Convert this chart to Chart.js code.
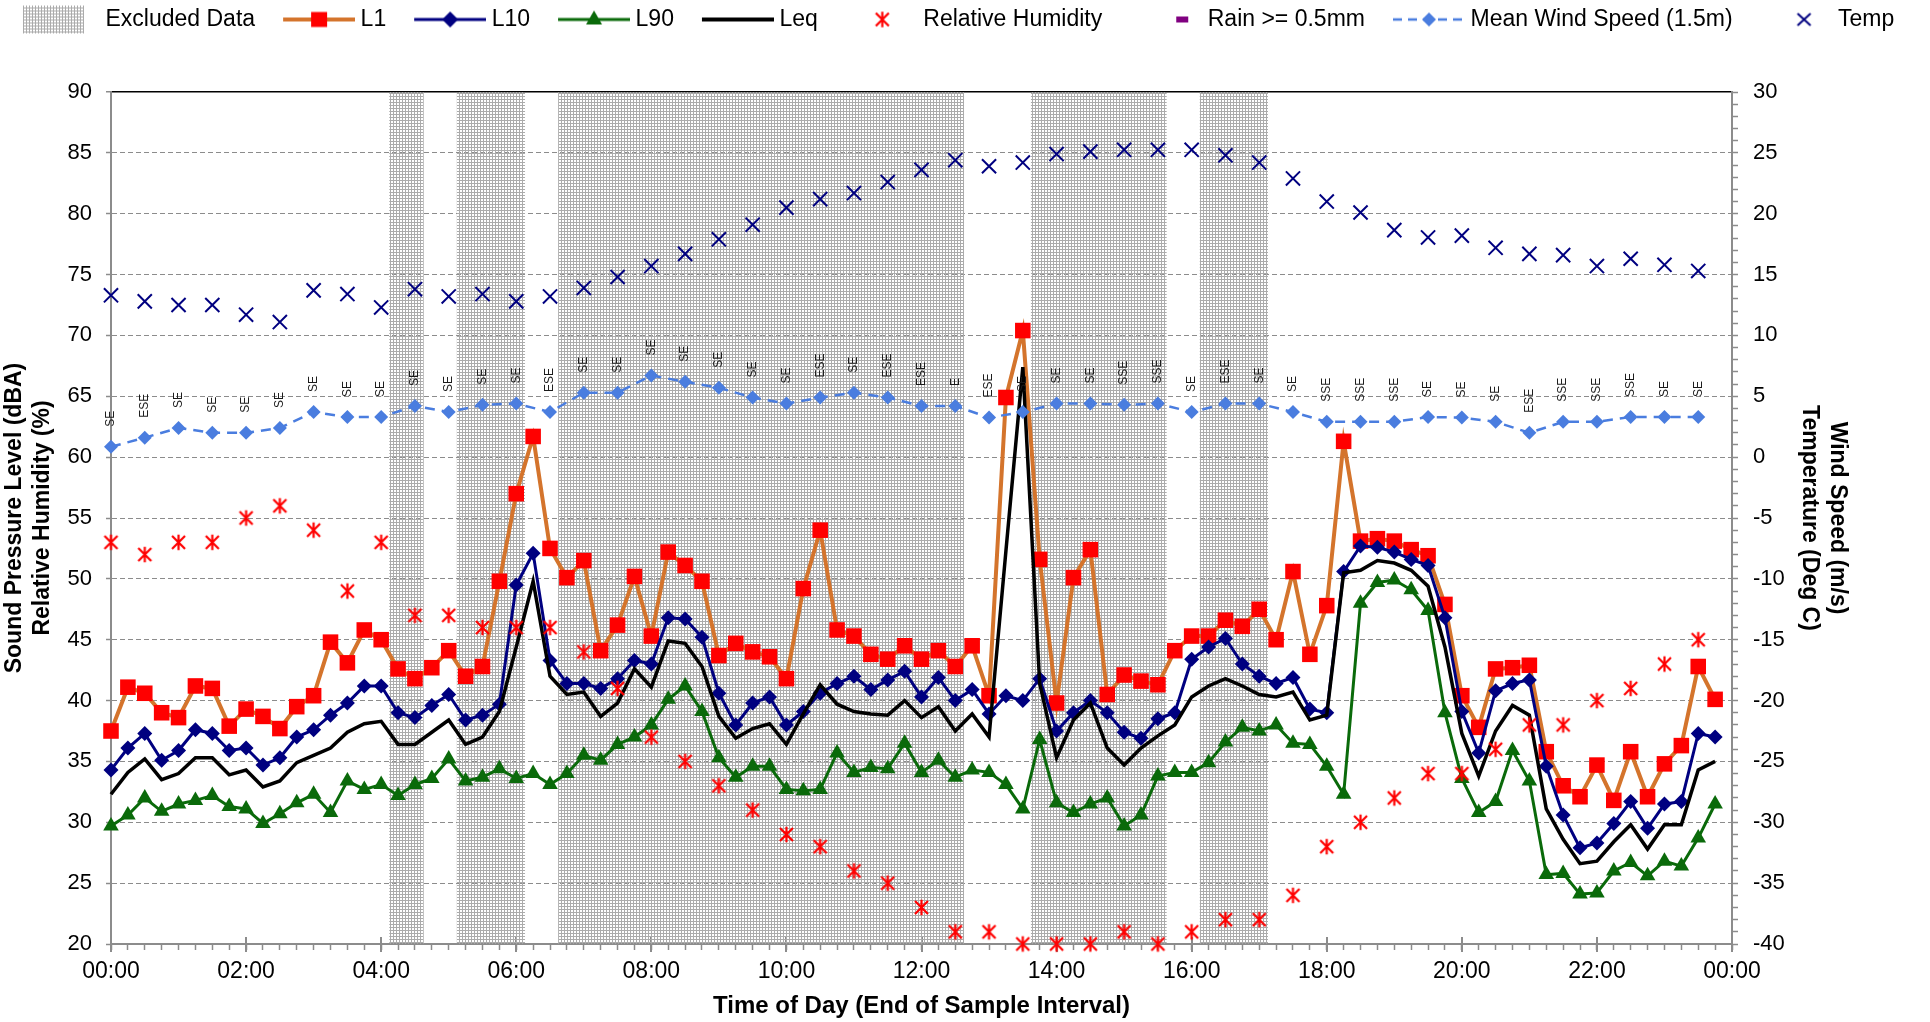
<!DOCTYPE html>
<html><head><meta charset="utf-8">
<script src="https://cdn.jsdelivr.net/npm/chart.js@4.4.1/dist/chart.umd.min.js"></script>
<style>html,body{margin:0;padding:0;background:#fff;}canvas{display:block;}</style>
</head><body>
<canvas id="c" width="1930" height="1022"></canvas>
<script>
// ---- categories (end of 15-minute sample interval) ----
const quarterTimes = [
"00:00","00:15","00:30","00:45","01:00","01:15","01:30","01:45",
"02:00","02:15","02:30","02:45","03:00","03:15","03:30","03:45",
"04:00","04:15","04:30","04:45","05:00","05:15","05:30","05:45",
"06:00","06:15","06:30","06:45","07:00","07:15","07:30","07:45",
"08:00","08:15","08:30","08:45","09:00","09:15","09:30","09:45",
"10:00","10:15","10:30","10:45","11:00","11:15","11:30","11:45",
"12:00","12:15","12:30","12:45","13:00","13:15","13:30","13:45",
"14:00","14:15","14:30","14:45","15:00","15:15","15:30","15:45",
"16:00","16:15","16:30","16:45","17:00","17:15","17:30","17:45",
"18:00","18:15","18:30","18:45","19:00","19:15","19:30","19:45",
"20:00","20:15","20:30","20:45","21:00","21:15","21:30","21:45",
"22:00","22:15","22:30","22:45","23:00","23:15","23:30","23:45","24:00"];
const halfHourTimes = [
"00:00","00:30","01:00","01:30","02:00","02:30","03:00","03:30","04:00","04:30",
"05:00","05:30","06:00","06:30","07:00","07:30","08:00","08:30","09:00","09:30",
"10:00","10:30","11:00","11:30","12:00","12:30","13:00","13:30","14:00","14:30",
"15:00","15:30","16:00","16:30","17:00","17:30","18:00","18:30","19:00","19:30",
"20:00","20:30","21:00","21:30","22:00","22:30","23:00","23:30"];
const majorTickLabels = ["00:00","02:00","04:00","06:00","08:00","10:00","12:00","14:00","16:00","18:00","20:00","22:00","00:00"];

// ---- excluded intervals ----
const excludedTimes = ["04:15","04:30","05:15","05:30","05:45","06:00",
"06:45","07:00","07:15","07:30","07:45","08:00","08:15","08:30","08:45","09:00","09:15","09:30","09:45",
"10:00","10:15","10:30","10:45","11:00","11:15","11:30","11:45","12:00","12:15","12:30",
"13:45","14:00","14:15","14:30","14:45","15:00","15:15","15:30",
"16:15","16:30","16:45","17:00"];

// ---- 15-minute noise series (dBA) ----
const L1 = [37.5,41.1,40.6,39.0,38.6,41.2,41.0,37.9,39.3,38.7,37.7,39.5,40.4,44.8,43.1,45.8,
45.0,42.6,41.8,42.7,44.1,42.0,42.8,49.8,57.0,61.7,52.5,50.1,51.5,44.1,46.2,50.2,
45.3,52.2,51.1,49.8,43.7,44.7,44.0,43.6,41.8,49.2,54.0,45.8,45.3,43.8,43.4,44.5,
43.4,44.1,42.8,44.5,40.4,64.9,70.4,51.6,39.8,50.1,52.4,40.5,42.1,41.6,41.3,44.1,
45.3,45.3,46.6,46.1,47.5,45.0,50.6,43.8,47.8,61.3,53.1,53.3,53.1,52.4,51.9,47.9,
40.4,37.8,42.6,42.7,42.9,35.8,33.0,32.1,34.7,31.8,35.8,32.1,34.8,36.3,42.8,40.1];
const L10 = [34.3,36.1,37.3,35.1,35.9,37.6,37.3,35.9,36.1,34.7,35.3,37.0,37.6,38.8,39.8,41.2,
41.2,39.0,38.6,39.6,40.5,38.4,38.8,39.7,49.5,52.1,43.3,41.4,41.4,41.0,41.8,43.3,
43.0,46.8,46.7,45.2,40.6,38.0,39.8,40.3,38.0,39.1,40.6,41.4,42.0,40.9,41.7,42.4,
40.3,41.9,40.0,40.9,38.9,40.4,40.0,41.8,37.5,39.0,40.0,39.0,37.4,36.9,38.5,39.0,
43.4,44.4,45.1,43.0,42.0,41.4,41.9,39.3,39.0,50.6,52.7,52.6,52.2,51.6,51.1,46.8,
39.1,35.7,40.8,41.4,41.7,34.6,30.6,27.9,28.3,29.9,31.7,29.5,31.5,31.7,37.3,37.0];
const L90 = [29.7,30.6,32.0,30.9,31.5,31.8,32.2,31.3,31.1,29.9,30.7,31.6,32.3,30.8,33.4,32.7,
33.1,32.2,33.1,33.6,35.2,33.4,33.7,34.4,33.6,34.0,33.1,34.0,35.5,35.1,36.4,37.0,
38.0,40.1,41.2,39.1,35.3,33.7,34.6,34.6,32.7,32.6,32.7,35.7,34.1,34.5,34.4,36.5,
34.1,35.1,33.7,34.3,34.1,33.1,31.1,36.8,31.6,30.8,31.5,32.0,29.7,30.6,33.8,34.1,
34.1,34.9,36.6,37.8,37.5,38.0,36.5,36.4,34.6,32.3,48.0,49.7,49.9,49.1,47.4,39.0,
33.6,30.8,31.7,35.9,33.4,25.7,25.8,24.1,24.2,26.0,26.7,25.6,26.8,26.4,28.7,31.5];
const Leq = [32.3,34.1,35.2,33.5,34.0,35.3,35.3,33.9,34.3,32.9,33.4,34.9,35.5,36.1,37.4,38.1,
38.3,36.4,36.4,37.4,38.4,36.4,37.0,39.1,44.4,49.8,42.0,40.5,40.7,38.7,39.8,42.6,
41.1,44.9,44.7,42.8,38.7,36.9,37.7,38.1,36.4,38.9,41.3,39.7,39.1,38.9,38.8,40.0,
38.6,39.5,37.5,38.9,37.0,52.3,67.4,41.4,35.3,38.4,39.8,36.1,34.7,36.1,37.1,38.0,
40.3,41.2,41.8,41.2,40.5,40.3,40.7,38.4,38.8,50.5,50.7,51.5,51.3,50.7,49.4,44.4,
37.3,33.8,37.5,39.6,38.8,31.1,28.6,26.6,26.8,28.4,29.8,27.8,29.8,29.8,34.3,35.0];

// ---- 30-minute weather series ----
const relHumidity = [53,52,53,53,55,56,54,49,53,47,47,46,46,46,44,41,37,35,33,31,
29,28,26,25,23,21,21,20,20,20,21,20,21,22,22,24,28,30,32,34,34,36,38,38,40,41,43,45];
const windSpeed = [0.85,1.6,2.4,2.0,2.0,2.4,3.7,3.3,3.3,4.2,3.7,4.3,4.4,3.7,5.3,5.3,6.7,6.2,5.7,4.9,
4.4,4.9,5.3,4.9,4.2,4.2,3.25,3.7,4.4,4.4,4.3,4.4,3.7,4.4,4.4,3.7,2.9,2.9,2.9,3.3,
3.25,2.9,2.0,2.9,2.9,3.3,3.3,3.3];
const windDir = ["SE","ESE","SE","SE","SE","SE","SE","SE","SE","SE",
"SE","SE","SE","ESE","SE","SE","SE","SE","SE","SE",
"SE","ESE","SE","ESE","ESE","E","ESE","SE","SE","SE",
"SSE","SSE","SE","ESE","SE","SE","SSE","SSE","SSE","SE",
"SE","SE","ESE","SSE","SSE","SSE","SE","SE"];
const temperature = [13.3,12.8,12.5,12.5,11.7,11.1,13.7,13.4,12.3,13.8,13.2,13.4,12.8,13.2,13.9,14.8,15.7,16.7,17.9,19.1,
20.5,21.2,21.7,22.6,23.6,24.4,23.9,24.2,24.9,25.1,25.25,25.25,25.25,24.8,24.2,22.9,21.0,20.1,18.65,18.05,
18.2,17.2,16.7,16.6,15.7,16.3,15.8,15.3];
const rain = [];

// ---- colours ----
const C = {l1Line:'#D4742C', l1Pt:'#FF0000', l10:'#000080', l90:'#0A6A0A', leq:'#000000',
  rh:'#FF0000', rain:'#800080', wind:'#4A7DDF', temp:'#000080', axis:'#8C8C8C', grid:'#8C8C8C'};

const FONT = "'Liberation Sans', Arial, Helvetica, sans-serif";
Chart.defaults.font.family = FONT;
Chart.defaults.color = '#000';

function makeTile(){
  const t = document.createElement('canvas'); t.width = 3; t.height = 3;
  const g = t.getContext('2d'); g.fillStyle = '#ababab';
  g.fillRect(0,0,3,1); g.fillRect(0,0,1,3); return t;
}
const mainCtx = document.getElementById('c').getContext('2d');
const hatch = mainCtx.createPattern(makeTile(), 'repeat');

function mk(w,h,draw){ const c=document.createElement('canvas'); c.width=w; c.height=h; draw(c.getContext('2d'),w,h); return c; }
function star(g,cx,cy,r,color,lw){
  g.strokeStyle=color; g.lineWidth=lw; g.beginPath();
  g.moveTo(cx-r,cy-r); g.lineTo(cx+r,cy+r); g.moveTo(cx+r,cy-r); g.lineTo(cx-r,cy+r);
  g.moveTo(cx,cy-r*1.2); g.lineTo(cx,cy+r*1.2); g.stroke();
}
const rhPoint = mk(19,19,(g)=>star(g,9.5,9.5,6.5,C.rh,2.2));

// legend icons
const BOXW = 86;
const LW = BOXW + 12, LH = 30, LC = 15;
function lineIcon(g,color,width,dash){ g.strokeStyle=color; g.lineWidth=width; g.setLineDash(dash||[]); g.beginPath(); g.moveTo(LW-72,LC); g.lineTo(LW,LC); g.stroke(); g.setLineDash([]); }
function diamond(g,cx,cy,r,color){ g.fillStyle=color; g.beginPath(); g.moveTo(cx-r,cy); g.lineTo(cx,cy-r); g.lineTo(cx+r,cy); g.lineTo(cx,cy+r); g.closePath(); g.fill(); }
const icons = {
  excl: mk(LW,LH,(g)=>{ g.fillStyle=g.createPattern(makeTile(),'repeat'); g.fillRect(LW-77,1,61,28); }),
  l1: mk(LW,LH,(g)=>{ lineIcon(g,C.l1Line,4); g.fillStyle=C.l1Pt; g.fillRect(LW-44,LC-7.5,16,15); }),
  l10: mk(LW,LH,(g)=>{ lineIcon(g,C.l10,3); diamond(g,LW-36,LC,8,C.l10); }),
  l90: mk(LW,LH,(g)=>{ lineIcon(g,C.l90,3); g.fillStyle=C.l90; g.beginPath(); g.moveTo(LW-36,LC-9); g.lineTo(LW-28,LC+5); g.lineTo(LW-44,LC+5); g.closePath(); g.fill(); }),
  leq: mk(LW,LH,(g)=>{ lineIcon(g,C.leq,4); }),
  rh: mk(LW,LH,(g)=>{ star(g,LW-35.5,LC,6.5,C.rh,2.2); }),
  rain: mk(LW,LH,(g)=>{ g.fillStyle=C.rain; g.fillRect(LW-26,LC-3,12,6); }),
  wind: mk(LW,LH,(g)=>{ lineIcon(g,C.wind,2.5,[9,6]); diamond(g,LW-36,LC,7,C.wind); }),
  temp: mk(LW,LH,(g)=>{ g.strokeStyle=C.temp; g.lineWidth=2; g.beginPath(); g.moveTo(LW-35,LC-6); g.lineTo(LW-22,LC+6); g.moveTo(LW-22,LC-6); g.lineTo(LW-35,LC+6); g.stroke(); })
};
const legendDefs = [
  ['Excluded Data', icons.excl], ['L1', icons.l1], ['L10', icons.l10], ['L90', icons.l90], ['Leq', icons.leq],
  ['Relative Humidity', icons.rh], ['Rain >= 0.5mm', icons.rain], ['Mean Wind Speed (1.5m)', icons.wind], ['Temp', icons.temp]
];

const halfSeries = (vals) => halfHourTimes.map((t,i)=>({x:t, y:vals[i]}));

const datasets = [
  {type:'bar', label:'Excluded Data', data: quarterTimes.map(t => excludedTimes.includes(t) ? 90 : null),
    backgroundColor: hatch, borderWidth:0, categoryPercentage:1, barPercentage:1, base:20, yAxisID:'y', order:20},
  {type:'line', label:'L1', data:L1, borderColor:C.l1Line, borderWidth:4, pointStyle:'rect', pointRadius:11,
    pointBackgroundColor:C.l1Pt, pointBorderColor:C.l1Pt, pointBorderWidth:0, tension:0, yAxisID:'y', order:9, clip:false},
  {type:'line', label:'L10', data:L10, borderColor:C.l10, borderWidth:3, pointStyle:'rectRot', pointRadius:7.5,
    pointBackgroundColor:C.l10, pointBorderColor:C.l10, pointBorderWidth:0, tension:0, yAxisID:'y', order:8, clip:false},
  {type:'line', label:'L90', data:L90, borderColor:C.l90, borderWidth:3, pointStyle:'triangle', pointRadius:9,
    pointBackgroundColor:C.l90, pointBorderColor:C.l90, pointBorderWidth:0, tension:0, yAxisID:'y', order:7, clip:false},
  {type:'line', label:'Leq', data:Leq, borderColor:C.leq, borderWidth:3.5, pointRadius:0, tension:0, yAxisID:'y', order:6, clip:false},
  {type:'line', label:'Relative Humidity', data:halfSeries(relHumidity), showLine:false, pointStyle:rhPoint,
    yAxisID:'y', order:5, clip:false},
  {type:'line', label:'Rain >= 0.5mm', data:rain, borderColor:C.rain, showLine:false, pointRadius:0, yAxisID:'y2', order:4},
  {type:'line', label:'Mean Wind Speed (1.5m)', data:halfSeries(windSpeed), borderColor:C.wind, borderWidth:2.5,
    borderDash:[10,7], pointStyle:'rectRot', pointRadius:7, pointBackgroundColor:C.wind, pointBorderColor:C.wind,
    pointBorderWidth:0, tension:0, yAxisID:'y2', order:3, clip:false},
  {type:'line', label:'Temp', data:halfSeries(temperature), showLine:false, pointStyle:'crossRot', pointRadius:10,
    pointBorderColor:C.temp, pointBorderWidth:2, yAxisID:'y2', order:2, clip:false}
];

const dirLabelPlugin = {
  id:'dirLabels',
  afterDatasetsDraw(chart){
    const idx = chart.data.datasets.findIndex(d => d.label === 'Mean Wind Speed (1.5m)');
    const meta = chart.getDatasetMeta(idx);
    const ctx = chart.ctx;
    ctx.save();
    ctx.font = "12px " + FONT;
    ctx.fillStyle = '#1a1a1a';
    ctx.textAlign = 'left'; ctx.textBaseline = 'middle';
    meta.data.forEach((pt,i) => {
      ctx.save(); ctx.translate(pt.x, pt.y - 20); ctx.rotate(-Math.PI/2);
      ctx.fillText(windDir[i], 0, 0); ctx.restore();
    });
    ctx.restore();
  }
};
const majorTickPlugin = {
  id:'majorTicks',
  beforeDatasetsDraw(chart){
    const s = chart.scales.x, ctx = chart.ctx;
    ctx.save(); ctx.strokeStyle = C.axis; ctx.lineWidth = 2; ctx.beginPath();
    for (let i = 0; i < s.ticks.length; i += 8){ const px = Math.round(s.getPixelForTick(i)); ctx.moveTo(px, s.top - 7); ctx.lineTo(px, s.top + 8); }
    ctx.stroke(); ctx.restore();
  }
};

new Chart(mainCtx, {
  type:'line',
  data:{ labels: quarterTimes, datasets },
  options:{
    responsive:false, animation:false, events:[],
    layout:{ padding:0 },
    plugins:{
      tooltip:{enabled:false},
      title:{ display:true, text:' ', padding:{top:39,bottom:0}, font:{size:10} },
      legend:{ display:true, position:'top', align:'start', weight:3000,
        labels:{ usePointStyle:true, pointStyleWidth:BOXW, padding:8, color:'#000', font:{size:23},
          generateLabels: () => legendDefs.map((d,i) => ({ text:d[0], pointStyle:d[1], datasetIndex:i, hidden:false,
            fillStyle:'rgba(0,0,0,0)', strokeStyle:'rgba(0,0,0,0)', lineWidth:0, fontColor:'#000' })) } }
    },
    scales:{
      x:{ type:'category', labels: quarterTimes, offset:false,
        grid:{ display:true, drawOnChartArea:false, drawTicks:true, tickLength:6, tickColor:C.axis, tickWidth:1.5, offset:false },
        border:{ display:true, color:C.axis, width:2 },
        ticks:{ autoSkip:false, maxRotation:0, minRotation:0, padding:8, color:'#000', font:{size:23},
          callback:(v,i) => (i % 8 === 0 ? majorTickLabels[i/8] : '') },
        title:{ display:true, text:'Time of Day (End of Sample Interval)', color:'#000', font:{size:24, weight:'bold'}, padding:{top:0,bottom:1} },
        afterFit:(s) => { s.height = 78; } },
      y:{ position:'left', min:20, max:90,
        ticks:{ stepSize:5, padding:14, color:'#000', font:{size:22} },
        grid:{ drawTicks:true, tickLength:5, tickColor:C.axis, tickWidth:1.5,
          color:(c) => (c.tick && c.tick.value === 90) ? '#000' : ((c.tick && c.tick.value === 20) ? 'rgba(0,0,0,0)' : C.grid),
          lineWidth:(c) => (c.tick && c.tick.value === 90) ? 1.5 : 1 },
        border:{ display:true, color:C.axis, width:2, dash:(c) => (c.tick && c.tick.value === 90) ? [] : [5,3] },
        title:{ display:true, text:['Sound Pressure Level (dBA)','Relative Humidity (%)'], color:'#000',
          font:{size:23, weight:'bold'}, padding:{top:1,bottom:0} },
        afterFit:(s) => { s.width = 111; } },
      y2:{ position:'right', min:-40, max:30,
        ticks:{ stepSize:1, autoSkip:false, padding:15, color:'#000', font:{size:22},
          callback:(v) => (v % 5 === 0 ? String(v) : '') },
        grid:{ drawOnChartArea:false, drawTicks:true, tickLength:6, tickColor:C.axis, tickWidth:1.5 },
        border:{ display:true, color:C.axis, width:2 },
        title:{ display:true, text:['Wind Speed (m/s)','Temperature (Deg C)'], color:'#000',
          font:{size:23, weight:'bold'}, padding:{top:79,bottom:0} },
        afterFit:(s) => { s.width = 198; } }
    }
  },
  plugins:[majorTickPlugin, dirLabelPlugin]
});
</script>
</body></html>
